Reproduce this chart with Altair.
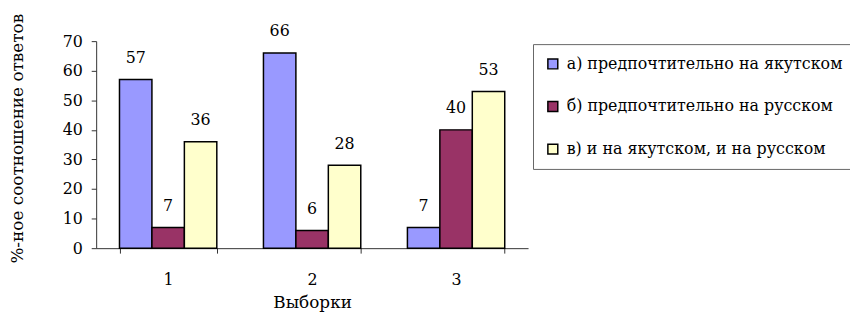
import altair as alt
import pandas as pd

samples = ["1", "2", "3"]
series = ["а) предпочтительно на якутском", "б) предпочтительно на русском", "в) и на якутском, и на русском"]
vals_a = [57, 66, 7]
vals_b = [7, 6, 40]
vals_c = [36, 28, 53]
colors = ["#9999FF", "#993366", "#FFFFCC"]

rows = []
for i, s in enumerate(samples):
    for name, vals in zip(series, [vals_a, vals_b, vals_c]):
        rows.append({"sample": s, "series": name, "value": vals[i]})
df = pd.DataFrame(rows)

FONT = "DejaVu Serif"

x = alt.X("sample:N", title="Выборки",
          scale=alt.Scale(paddingInner=0.324, paddingOuter=0.162),
          axis=alt.Axis(labelAngle=0, tickBand="extent", labelFontSize=16, titleFontSize=17,
                        labelPadding=19, titlePadding=7, domainColor="#333", tickColor="#333",
                        tickSize=5, labelColor="black", titleColor="black", labelFont=FONT, titleFont=FONT,
                        titleFontWeight="normal"))
y = alt.Y("value:Q", title="%-ное соотношение ответов",
          scale=alt.Scale(domain=[0, 70]),
          axis=alt.Axis(values=list(range(0, 71, 10)), grid=False, labelFontSize=16, titleFontSize=17,
                        labelOverlap=False, labelFlush=False, titleY=98,
                        labelPadding=9, titlePadding=36, domainColor="#333", tickColor="#333", tickSize=5,
                        labelColor="black", titleColor="black", labelFont=FONT, titleFont=FONT,
                        titleFontWeight="normal"))

base = alt.Chart(df).encode(
    x=x,
    y=y,
    xOffset=alt.XOffset("series:N", sort=series),
)

bars = base.mark_bar(stroke="black", strokeWidth=1.5).encode(
    color=alt.Color("series:N", sort=series, scale=alt.Scale(domain=series, range=colors),
                    legend=alt.Legend(title=None, orient="none", legendX=441, legendY=3,
                                      labelFontSize=16, labelFont=FONT, labelColor="black",
                                      symbolType="square", symbolSize=100, symbolStrokeColor="black",
                                      symbolStrokeWidth=1.5, rowPadding=27, padding=12,
                                      strokeColor="#666", labelLimit=400, labelOffset=6)),
)

labels = base.mark_text(dy=-22, fontSize=16, font=FONT, color="black").encode(
    text="value:Q",
)

chart = (bars + labels).properties(
    width=436, height=209,
    autosize=alt.AutoSizeParams(type="none"),
    padding={"left": 89, "top": 32, "right": 325, "bottom": 66},
).configure_view(stroke=None)

chart.save("out.html", embed_options={"renderer": "svg", "actions": False})
